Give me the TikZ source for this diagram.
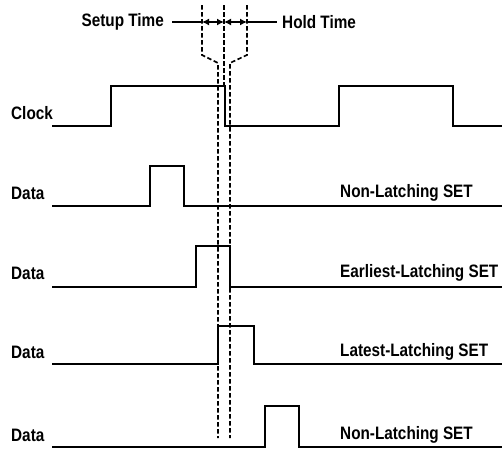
\documentclass[tikz,border=0pt]{standalone}
\usepackage{fontspec}
\setmainfont{Liberation Sans}
\newfontfamily\sigfont[FakeStretch=0.85]{Liberation Sans}
\usetikzlibrary{arrows.meta,positioning,calc}

\begin{document}
\begin{tikzpicture}[
  x=1pt, y=-1pt,
  lbl/.style={inner sep=0pt, anchor=west, font=\sigfont\bfseries\fontsize{18}{18}\selectfont},
  wave/.style={line width=2.6pt, line join=miter},
  guide/.style={line width=1.6pt, dash pattern=on 4.5pt off 2.5pt},
  tick/.style={line width=1.5pt},
  span/.style={{Latex[length=7pt,width=7pt]}-{Latex[length=7pt,width=7pt]}, line width=1.5pt}
]
  \useasboundingbox (0,0) rectangle (502,448);

  % signal names
  \node[lbl] (clk) at (11,113) {Clock};
  \node[lbl] (d1) at (11,193) {Data};
  \node[lbl] (d2) at (11,273) {Data};
  \node[lbl] (d3) at (11,352) {Data};
  \node[lbl] (d4) at (11,435) {Data};

  % pulse names
  \node[lbl] (s1) at (340,193) {Non-Latching SET};
  \node[lbl] (s2) at (340,273) {Earliest-Latching SET};
  \node[lbl] (s3) at (340,352) {Latest-Latching SET};
  \node[lbl] (s4) at (340,435) {Non-Latching SET};

  % setup / hold window
  \node[lbl, anchor=east] (setup) at (164,22) {Setup Time};
  \node[lbl] (hold) at (282,22) {Hold Time};
  \coordinate (a0) at (172,22);
  \coordinate (a1) at (202,22);
  \coordinate (a2) at (224,22);
  \coordinate (a3) at (247,22);
  \coordinate (a4) at (277,22);
  \draw[tick] (a0) -- (a1);
  \draw[span] (a1) -- (a2);
  \draw[span] (a2) -- (a3);
  \draw[tick] (a3) -- (a4);

  \draw[guide] (202,5) -- (202,55) -- (218,63) -- (218,438);
  \draw[guide] (247,5) -- (247,55) -- (230,63) -- (230,438);
  \draw[guide] (224,5) -- (224,86);

  % waveforms
  \draw[wave] (52,126) -| (111,86) -| (225,126) -| (339,86) -| (453,126) -- (502,126);
  \draw[wave] (52,206) -| (150,166) -| (184,206) -- (502,206);
  \draw[wave] (52,287) -| (196,246) -| (230,287) -- (502,287);
  \draw[wave] (52,364) -| (218,326) -| (254,364) -- (502,364);
  \draw[wave] (52,447) -| (265,406) -| (299,447) -- (502,447);
\end{tikzpicture}
\end{document}
